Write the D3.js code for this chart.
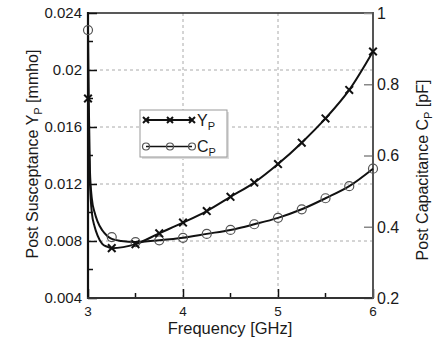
<!DOCTYPE html>
<html>
<head>
<meta charset="utf-8">
<script src="https://cdn.jsdelivr.net/npm/d3@7"></script>
<style>
  body { margin: 0; background: #fff; }
  text { font-family: "Liberation Sans", Arial, sans-serif; fill: #1a1a1a; }
</style>
</head>
<body>
<div id="chart"></div>
<script>
// marker frequencies (GHz)
var freqs = [3, 3.25, 3.5, 3.75, 4, 4.25, 4.5, 4.75, 5, 5.25, 5.5, 5.75, 6];
// Y_P markers (mmho), left axis
var ypMarks = [0.0180, 0.00750, 0.00778, 0.00854, 0.00929, 0.0101, 0.0111, 0.0121, 0.0134, 0.0149, 0.0166, 0.0186, 0.0213];
// C_P markers (pF), right axis
var cpMarks = [0.952, 0.371, 0.357, 0.362, 0.369, 0.380, 0.391, 0.407, 0.425, 0.449, 0.480, 0.514, 0.563];

// curve points, denser near the steep start
var ypCurveF = [3, 3.01, 3.02, 3.04, 3.07, 3.1, 3.15, 3.2, 3.25, 3.5, 3.75, 4, 4.25, 4.5, 4.75, 5, 5.25, 5.5, 5.75, 6];
var ypCurveV = [0.0180, 0.0145, 0.0122, 0.0100, 0.0090, 0.0084, 0.0078, 0.0076, 0.0075, 0.00778, 0.00854, 0.00929, 0.0101, 0.0111, 0.0121, 0.0134, 0.0149, 0.0166, 0.0186, 0.0213];
var cpCurveF = [3, 3.01, 3.02, 3.04, 3.07, 3.1, 3.15, 3.2, 3.25, 3.35, 3.5, 3.75, 4, 4.25, 4.5, 4.75, 5, 5.25, 5.5, 5.75, 6];
var cpCurveV = [0.952, 0.72, 0.56, 0.48, 0.44, 0.415, 0.39, 0.375, 0.366, 0.36, 0.357, 0.362, 0.369, 0.380, 0.391, 0.407, 0.425, 0.449, 0.480, 0.514, 0.563];

var xTicks = [3, 4, 5, 6];
var xMinor = [3.5, 4.5, 5.5];
var yTicks = [0.004, 0.008, 0.012, 0.016, 0.02, 0.024];
var yMinor = [0.006, 0.01, 0.014, 0.018, 0.022];
var y2Ticks = [0.2, 0.4, 0.6, 0.8, 1];

var svg = d3.select("#chart").append("svg")
  .attr("width", 440).attr("height", 342);

var x = d3.scaleLinear().domain([3, 6]).range([88, 373]);
var y = d3.scaleLinear().domain([0.004, 0.024]).range([298, 13]);
var y2 = d3.scaleLinear().domain([0.2, 1]).range([298, 13]);

// grid
svg.append("g").selectAll("line").data([4, 5]).enter().append("line")
  .attr("x1", d => x(d)).attr("x2", d => x(d))
  .attr("y1", 13).attr("y2", 298)
  .attr("stroke", "#aaa").attr("stroke-dasharray", "3,3");
svg.append("g").selectAll("line").data([0.008, 0.012, 0.016, 0.02]).enter().append("line")
  .attr("x1", 88).attr("x2", 373)
  .attr("y1", d => y(d)).attr("y2", d => y(d))
  .attr("stroke", "#aaa").attr("stroke-dasharray", "3,3");

// frame top
svg.append("line").attr("x1", 88).attr("x2", 373).attr("y1", 13).attr("y2", 13)
  .attr("stroke", "#222").attr("stroke-width", 1.5);

// left axis
var gl = svg.append("g").attr("transform", "translate(88,0)")
  .call(d3.axisRight(y).tickValues(yTicks).tickSize(9).tickFormat(""));
gl.selectAll(".tick line").attr("stroke", "#111").attr("stroke-width", 1.5);
gl.select(".domain").remove();
svg.append("g").selectAll("line").data(yMinor).enter().append("line")
  .attr("x1", 88).attr("x2", 93).attr("y1", d => y(d)).attr("y2", d => y(d))
  .attr("stroke", "#111").attr("stroke-width", 1.5);
svg.append("g").selectAll("text").data(yTicks).enter().append("text")
  .attr("x", 82).attr("y", d => y(d)).attr("dy", "0.36em")
  .attr("text-anchor", "end").style("font-size", "15px")
  .text(d => d3.format(".3f")(d).replace(/0+$/, "").replace(/\.$/, ""));

// bottom axis
var gb = svg.append("g").attr("transform", "translate(0,298)")
  .call(d3.axisTop(x).tickValues(xTicks).tickSize(9).tickFormat(""));
gb.selectAll(".tick line").attr("stroke", "#111").attr("stroke-width", 1.5);
gb.select(".domain").remove();
svg.append("g").selectAll("line").data(xMinor).enter().append("line")
  .attr("x1", d => x(d)).attr("x2", d => x(d)).attr("y1", 298).attr("y2", 293)
  .attr("stroke", "#111").attr("stroke-width", 1.5);
svg.append("g").selectAll("text").data(xTicks).enter().append("text")
  .attr("x", d => x(d)).attr("y", 316)
  .attr("text-anchor", "middle").style("font-size", "13.5px")
  .text(d => d);

// right axis
var gr = svg.append("g").attr("transform", "translate(373,0)")
  .call(d3.axisLeft(y2).tickValues(y2Ticks).tickSize(9).tickFormat(""));
gr.selectAll(".tick line").attr("stroke", "#888").attr("stroke-width", 1.5);
gr.select(".domain").remove();
svg.append("g").selectAll("text").data(y2Ticks).enter().append("text")
  .attr("x", 377).attr("y", d => y2(d)).attr("dy", "0.36em")
  .style("font-size", "16px")
  .text(d => d);

// axis lines
svg.append("line").attr("x1", 88).attr("x2", 88).attr("y1", 12).attr("y2", 299)
  .attr("stroke", "#111").attr("stroke-width", 2.2);
svg.append("line").attr("x1", 87).attr("x2", 374).attr("y1", 298).attr("y2", 298)
  .attr("stroke", "#333").attr("stroke-width", 2);
svg.append("line").attr("x1", 373).attr("x2", 373).attr("y1", 12).attr("y2", 299)
  .attr("stroke", "#555").attr("stroke-width", 2);

// axis titles
svg.append("text").attr("x", 230).attr("y", 334)
  .attr("text-anchor", "middle").style("font-size", "16.5px")
  .text("Frequency [GHz]");

var lt = svg.append("text")
  .attr("transform", "translate(38,154) rotate(-90)")
  .attr("text-anchor", "middle").style("font-size", "16px");
lt.append("tspan").text("Post Susceptance Y");
lt.append("tspan").attr("dy", 4).style("font-size", "11px").text("P");
lt.append("tspan").attr("dy", -4).text(" [mmho]");

var rt = svg.append("text")
  .attr("transform", "translate(428,170) rotate(-90)")
  .attr("text-anchor", "middle").style("font-size", "16px");
rt.append("tspan").text("Post Capacitance C");
rt.append("tspan").attr("dy", 4).style("font-size", "11px").text("P");
rt.append("tspan").attr("dy", -4).text(" [pF]");

// curves
var ypLine = d3.line().curve(d3.curveMonotoneX)
  .x((d, i) => x(ypCurveF[i])).y(d => y(d));
var cpLine = d3.line().curve(d3.curveMonotoneX)
  .x((d, i) => x(cpCurveF[i])).y(d => y2(d));

svg.append("path").datum(cpCurveV).attr("d", cpLine)
  .attr("fill", "none").attr("stroke", "#111").attr("stroke-width", 2);
svg.append("path").datum(ypCurveV).attr("d", ypLine)
  .attr("fill", "none").attr("stroke", "#111").attr("stroke-width", 2);

// markers
svg.append("g").selectAll("circle").data(cpMarks).enter().append("circle")
  .attr("cx", (d, i) => x(freqs[i])).attr("cy", d => y2(d)).attr("r", 4.5)
  .attr("fill", "none").attr("stroke", "#555").attr("stroke-width", 1.2);

function cross(g, cx, cy, s) {
  g.append("path")
    .attr("d", "M" + (cx - s) + "," + (cy - s) + "L" + (cx + s) + "," + (cy + s) +
               "M" + (cx - s) + "," + (cy + s) + "L" + (cx + s) + "," + (cy - s))
    .attr("stroke", "#111").attr("stroke-width", 2);
}
var gx = svg.append("g");
ypMarks.forEach(function(d, i) { cross(gx, x(freqs[i]), y(d), 3.8); });

// legend
var lg = svg.append("g");
lg.append("rect").attr("x", 142).attr("y", 112).attr("width", 87).attr("height", 47)
  .attr("fill", "#ddd");
lg.append("rect").attr("x", 140).attr("y", 110).attr("width", 87).attr("height", 47)
  .attr("fill", "#fff").attr("stroke", "#999");
lg.append("line").attr("x1", 146).attr("x2", 192).attr("y1", 120).attr("y2", 120)
  .attr("stroke", "#111").attr("stroke-width", 2);
[146, 170, 192].forEach(function(px) { cross(lg, px, 120, 3); });
lg.append("line").attr("x1", 146).attr("x2", 192).attr("y1", 146.5).attr("y2", 146.5)
  .attr("stroke", "#111").attr("stroke-width", 1.5);
lg.selectAll("circle").data([146, 170, 192]).enter().append("circle")
  .attr("cx", d => d).attr("cy", 146.5).attr("r", 3.5)
  .attr("fill", "none").attr("stroke", "#555").attr("stroke-width", 1.2);
var l1 = lg.append("text").attr("x", 197).attr("y", 126).style("font-size", "16px");
l1.append("tspan").text("Y");
l1.append("tspan").attr("dy", 4).style("font-size", "11px").text("P");
var l2 = lg.append("text").attr("x", 197).attr("y", 152).style("font-size", "16px");
l2.append("tspan").text("C");
l2.append("tspan").attr("dy", 4).style("font-size", "11px").text("P");
</script>
</body>
</html>
